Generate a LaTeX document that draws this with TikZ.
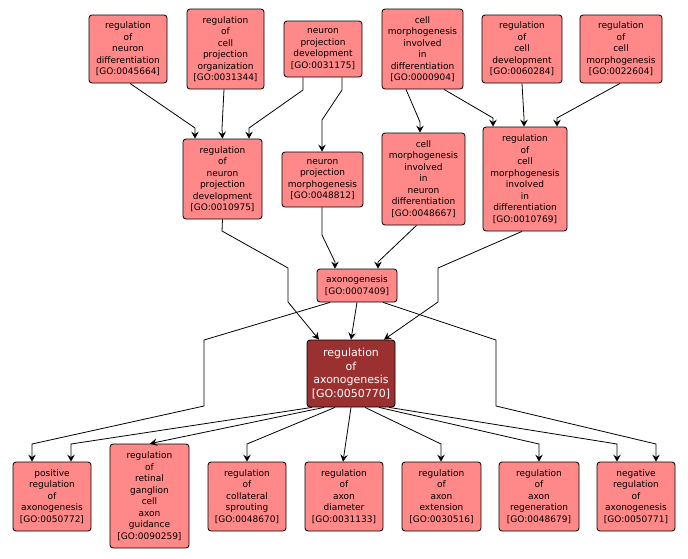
\documentclass[tikz,border=0pt]{standalone}
\usepackage{fontspec}
\newfontfamily\termfont{DejaVu Sans}
\usetikzlibrary{arrows.meta}
\definecolor{termfill}{RGB}{255,136,136}
\definecolor{focusfill}{RGB}{155,48,48}
\tikzset{
    term/.style={draw, rounded corners=3pt, fill=termfill, align=center, inner sep=0pt,
        line width=0.8pt, font=\termfont\fontsize{9}{11.5}\selectfont},
    focus/.style={term, fill=focusfill, text=white, font=\termfont\fontsize{11}{13.5}\selectfont},
    edge/.style={line width=0.8pt, -{Stealth[length=7pt,width=7.5pt,inset=2.5pt]}}
}
\begin{document}
\begin{tikzpicture}[x=1pt, y=-1pt]
        \useasboundingbox (0,0) rectangle (688,558);
        % top row
        \node [term, minimum width=78pt, minimum height=68pt] (rnd) at (128,49) {regulation\\of\\neuron\\differentiation\\{[GO:0045664]}};
        \node [term, minimum width=77pt, minimum height=80pt] (rcpo) at (225.5,49) {regulation\\of\\cell\\projection\\organization\\{[GO:0031344]}};
        \node [term, minimum width=78pt, minimum height=56pt] (npd) at (323,49) {neuron\\projection\\development\\{[GO:0031175]}};
        \node [term, minimum width=81pt, minimum height=80pt] (cmid) at (422.5,49) {cell\\morphogenesis\\involved\\in\\differentiation\\{[GO:0000904]}};
        \node [term, minimum width=80pt, minimum height=68pt] (rcd) at (522,49) {regulation\\of\\cell\\development\\{[GO:0060284]}};
        \node [term, minimum width=82pt, minimum height=68pt] (rcm) at (621,49) {regulation\\of\\cell\\morphogenesis\\{[GO:0022604]}};
        % second row
        \node [term, minimum width=79pt, minimum height=80pt] (rnpd) at (222.5,179) {regulation\\of\\neuron\\projection\\development\\{[GO:0010975]}};
        \node [term, minimum width=81pt, minimum height=55pt] (npm) at (322.5,179.5) {neuron\\projection\\morphogenesis\\{[GO:0048812]}};
        \node [term, minimum width=83pt, minimum height=92pt] (cmind) at (423.5,179) {cell\\morphogenesis\\involved\\in\\neuron\\differentiation\\{[GO:0048667]}};
        \node [term, minimum width=84pt, minimum height=104pt] (rcmid) at (525,179) {regulation\\of\\cell\\morphogenesis\\involved\\in\\differentiation\\{[GO:0010769]}};
        % middle
        \node [term, minimum width=80pt, minimum height=33pt] (axo) at (357,285.5) {axonogenesis\\{[GO:0007409]}};
        \node [focus, minimum width=88pt, minimum height=67pt] (rax) at (351,373.5) {regulation\\of\\axonogenesis\\{[GO:0050770]}};
        % bottom row
        \node [term, minimum width=78pt, minimum height=69pt] (pra) at (52,496.5) {positive\\regulation\\of\\axonogenesis\\{[GO:0050772]}};
        \node [term, minimum width=79pt, minimum height=104pt] (rrgc) at (149.5,496) {regulation\\of\\retinal\\ganglion\\cell\\axon\\guidance\\{[GO:0090259]}};
        \node [term, minimum width=78pt, minimum height=69pt] (rcs) at (247,496.5) {regulation\\of\\collateral\\sprouting\\{[GO:0048670]}};
        \node [term, minimum width=78pt, minimum height=69pt] (rad) at (344,496.5) {regulation\\of\\axon\\diameter\\{[GO:0031133]}};
        \node [term, minimum width=79pt, minimum height=69pt] (rae) at (441.5,496.5) {regulation\\of\\axon\\extension\\{[GO:0030516]}};
        \node [term, minimum width=80pt, minimum height=69pt] (rar) at (539,496.5) {regulation\\of\\axon\\regeneration\\{[GO:0048679]}};
        \node [term, minimum width=78pt, minimum height=69pt] (nra) at (636,496.5) {negative\\regulation\\of\\axonogenesis\\{[GO:0050771]}};

        \draw [edge] ([xshift=2pt]rnd.south) -- (195,128) -- ([xshift=-27.5pt]rnpd.north);
        \draw [edge] ([xshift=-1.5pt]rcpo.south) -- (222,128) -- (rnpd.north);
        \draw [edge] ([xshift=-20pt]npd.south) -- (303,90) -- (249,128) -- ([xshift=26.5pt]rnpd.north);
        \draw [edge] ([xshift=19pt]npd.south) -- (342,90) -- (322,120) -- ([xshift=-0.5pt]npm.north);
        \draw [edge] ([xshift=-16.5pt]cmid.south) -- (420,122) -- ([xshift=-3.5pt]cmind.north);
        \draw [edge] ([xshift=21.5pt]cmid.south) -- (493,118) -- ([xshift=-32pt]rcmid.north);
        \draw [edge] (rcd.south) -- (524,118) -- ([xshift=-1pt]rcmid.north);
        \draw [edge] ([xshift=-1pt]rcm.south) -- (557,118) -- ([xshift=32pt]rcmid.north);

        \draw [edge] (rnpd.south) -- (222,231) -- (288,268) -- (288,302) -- ([xshift=-32pt]rax.north);
        \draw [edge] ([xshift=-0.5pt]npm.south) -- (322,235) -- (335,262) -- ([xshift=-22pt]axo.north);
        \draw [edge] ([xshift=-7pt]cmind.south) -- (378,262) -- ([xshift=21pt]axo.north);
        \draw [edge] ([xshift=-3pt]rcmid.south) -- (438,268) -- (438,302) -- ([xshift=33pt]rax.north);
        \draw [edge] (axo.south) -- (rax.north);

        \draw [edge] ([xshift=-27pt]axo.south) -- (204,340) -- (204,406) -- (32,444) -- ([xshift=-20pt]pra.north);
        \draw [edge] ([xshift=26pt]axo.south) -- (496,340) -- (496,406) -- (656,444) -- ([xshift=20pt]nra.north);
        \draw [edge] ([xshift=-39pt]rax.south) -- (71,444) -- ([xshift=19pt]pra.north);
        \draw [edge] ([xshift=-27pt]rax.south) -- ([xshift=0.5pt]rrgc.north);
        \draw [edge] ([xshift=-16pt]rax.south) -- (247,444) -- (rcs.north);
        \draw [edge] (rax.south) -- ([xshift=-1pt]rad.north);
        \draw [edge] ([xshift=14pt]rax.south) -- (441,444) -- ([xshift=-0.5pt]rae.north);
        \draw [edge] ([xshift=28pt]rax.south) -- (539,444) -- (rar.north);
        \draw [edge] ([xshift=38pt]rax.south) -- (617,444) -- ([xshift=-19pt]nra.north);
\end{tikzpicture}
\end{document}
